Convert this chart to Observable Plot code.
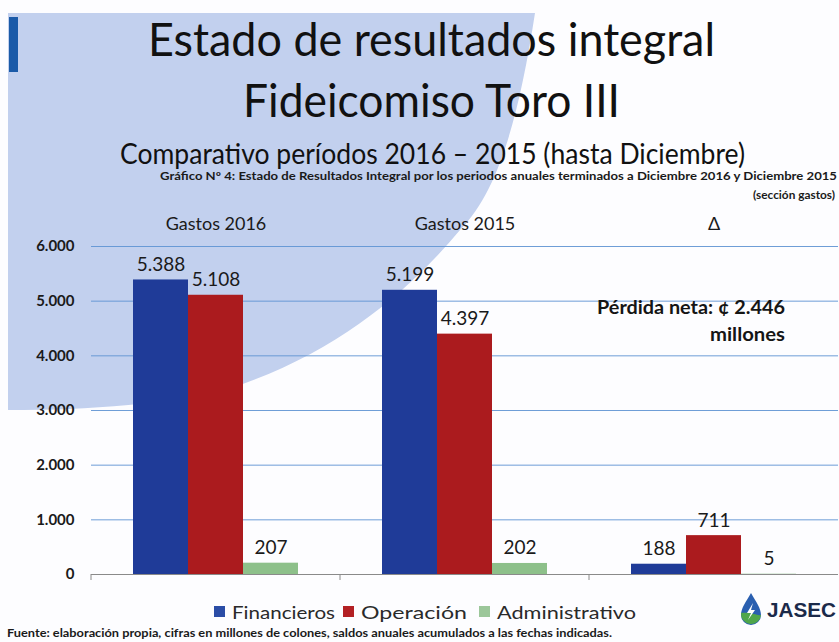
<!DOCTYPE html>
<html>
<head>
<meta charset="utf-8">
<script src="https://cdn.jsdelivr.net/npm/d3@7"></script>
<script src="https://cdn.jsdelivr.net/npm/@observablehq/plot@0.6"></script>
<style>
  html, body { margin: 0; padding: 0; background: #ffffff; }
  #page { position: relative; width: 839px; height: 642px; overflow: hidden; background: #fdfdff; }
  #page svg { position: absolute; left: 0; top: 0; }
  #fg { pointer-events: none; }
</style>
</head>
<body>
<div id="page">
  <svg id="bg" width="839" height="642"></svg>
  <div id="chart"></div>
  <svg id="fg" width="839" height="642"></svg>
</div>
<script>
// ---- data ----
const groups = ["Gastos 2016", "Gastos 2015", "Δ"];
const series = ["Financieros", "Operación", "Administrativo"];
const financieros = [5388, 5199, 188];
const operacion = [5108, 4397, 711];
const administrativo = [207, 202, 5];
const yTicks = [0, 1000, 2000, 3000, 4000, 5000, 6000];
const barColors = ["#1f3b98", "#ab1b1e", "#8dc08a"];
const legendColors = ["#2b4da6", "#b32024", "#9cc79a"];

const titleLines = ["Estado de resultados integral", "Fideicomiso Toro III"];
const subtitle = "Comparativo períodos 2016 – 2015 (hasta Diciembre)";
const captionLines = ["Gráfico Nº 4: Estado de Resultados Integral por los periodos anuales terminados a Diciembre 2016 y Diciembre 2015", "(sección gastos)"];
const noteLines = ["Pérdida neta: ¢ 2.446", "millones"];
const source = "Fuente: elaboración propia, cifras en millones de colones, saldos anuales acumulados a las fechas indicadas.";
const brand = "JASEC";

const fmt = d3.formatLocale({decimal: ",", thousands: ".", grouping: [3], currency: ["", ""]}).format(",");
const seriesValues = [financieros, operacion, administrativo];
const data = groups.flatMap((g, i) => series.map((s, j) => ({group: g, series: s, value: seriesValues[j][i]})));

// ---- background decoration ----
const bg = d3.select("#bg");
bg.append("path")
  .attr("d", "M8,13 H535 C520,110 500,190 460,230 C410,290 340,350 240,385 C170,405 90,410 8,410 Z")
  .attr("fill", "#c2d0ee");
bg.append("rect").attr("x", 9).attr("y", 17).attr("width", 9).attr("height", 55).attr("fill", "#1a5aa8");

// ---- chart ----
const plot = Plot.plot({
  width: 839,
  height: 642,
  marginTop: 246,
  marginBottom: 68,
  marginLeft: 90,
  marginRight: 0,
  style: {background: "transparent", fontFamily: "Lato, sans-serif", color: "#1a1a1a"},
  fx: {domain: groups, padding: 0, axis: null},
  x: {domain: series, paddingInner: 0, paddingOuter: 0.76, axis: null},
  y: {domain: [0, 6000], axis: null},
  color: {domain: series, range: barColors},
  marks: [
    Plot.gridY(yTicks.filter(d => d > 0), {stroke: "#5f93d3", strokeOpacity: 0.9, strokeWidth: 1}),
    Plot.barY(data, {fx: "group", x: "series", y: "value", fill: "series"}),
    Plot.ruleY([0], {stroke: "#8a8a8a", strokeWidth: 1}),
    Plot.text(data, {fx: "group", x: "series", y: "value", text: d => fmt(d.value), lineAnchor: "bottom", dy: -9, fontSize: 19, fill: "#1a1a1a"}),
    Plot.axisY(yTicks, {tickSize: 0, tickPadding: 17, tickFormat: fmt, fontSize: 15, fontWeight: "bold", fill: "#1a1a1a", label: null}),
    Plot.axisFx({anchor: "top", tickSize: 0, tickPadding: 17, fontSize: 18, fill: "#1a1a1a", label: null})
  ]
});
document.getElementById("chart").appendChild(plot);

// group boundary ticks on the baseline, from the library's scales
const fxS = plot.scale("fx");
const yS = plot.scale("y");
const sv = d3.select(plot);
const y0 = yS.apply(0);
groups.forEach(g => {
  const x0 = fxS.apply(g);
  sv.append("line").attr("x1", x0).attr("x2", x0).attr("y1", y0).attr("y2", y0 + 6)
    .attr("stroke", "#8a8a8a").attr("stroke-width", 1);
});

// ---- texts, legend, logo ----
const fg = d3.select("#fg");
function txt(x, y, s, o = {}) {
  const t = fg.append("text").attr("x", x).attr("y", y).text(s)
    .attr("font-family", o.family || "Lato, sans-serif")
    .attr("font-size", o.size || 14)
    .attr("font-weight", o.weight || "normal")
    .attr("fill", o.fill || "#111")
    .attr("text-anchor", o.anchor || "start");
  if (o.len) t.attr("textLength", o.len).attr("lengthAdjust", "spacingAndGlyphs");
  return t;
}
txt(148, 56, titleLines[0], {size: 46, len: 567});
txt(243, 117, titleLines[1], {size: 46, len: 377});
txt(120, 164, subtitle, {size: 28, len: 625});
txt(160, 180, captionLines[0], {size: 11.5, weight: "bold", len: 677, fill: "#1a1a1a"});
txt(753, 199, captionLines[1], {size: 11, weight: "bold", len: 82, fill: "#1a1a1a"});
txt(597, 314, noteLines[0], {size: 18, weight: "bold", len: 188, fill: "#151515"});
txt(710, 341, noteLines[1], {size: 18, weight: "bold", len: 75, fill: "#151515"});

// legend
const legendX = [214, 343, 479];
const legendLen = [103, 106, 139];
series.forEach((s, i) => {
  fg.append("rect").attr("x", legendX[i]).attr("y", 606).attr("width", 11).attr("height", 11).attr("fill", legendColors[i]);
  txt(legendX[i] + 18, 619, s, {size: 18, fill: "#2a2a2a", len: legendLen[i]});
});

// source
txt(7, 637, source, {size: 12, weight: "bold", len: 605, fill: "#1a1a1a"});

// logo
fg.append("path").attr("d", "M751,593 C746,602 741,608 741,615 A10,10 0 0 0 761,615 C761,608 756,602 751,593 Z").attr("fill", "#2a5fb0");
fg.append("path").attr("d", "M741,613 A10,10 0 0 0 761,615 C757,616 752,612 741,613 Z").attr("fill", "#4fa64a");
fg.append("path").attr("d", "M753,603 L747,613 L751,613 L748,620 L755,610 L751,610 Z").attr("fill", "#ffffff");
txt(767, 617, brand, {size: 21, weight: "bold", family: "Liberation Sans, Arial, sans-serif", fill: "#1b2a4a", len: 69});
</script>
</body>
</html>
